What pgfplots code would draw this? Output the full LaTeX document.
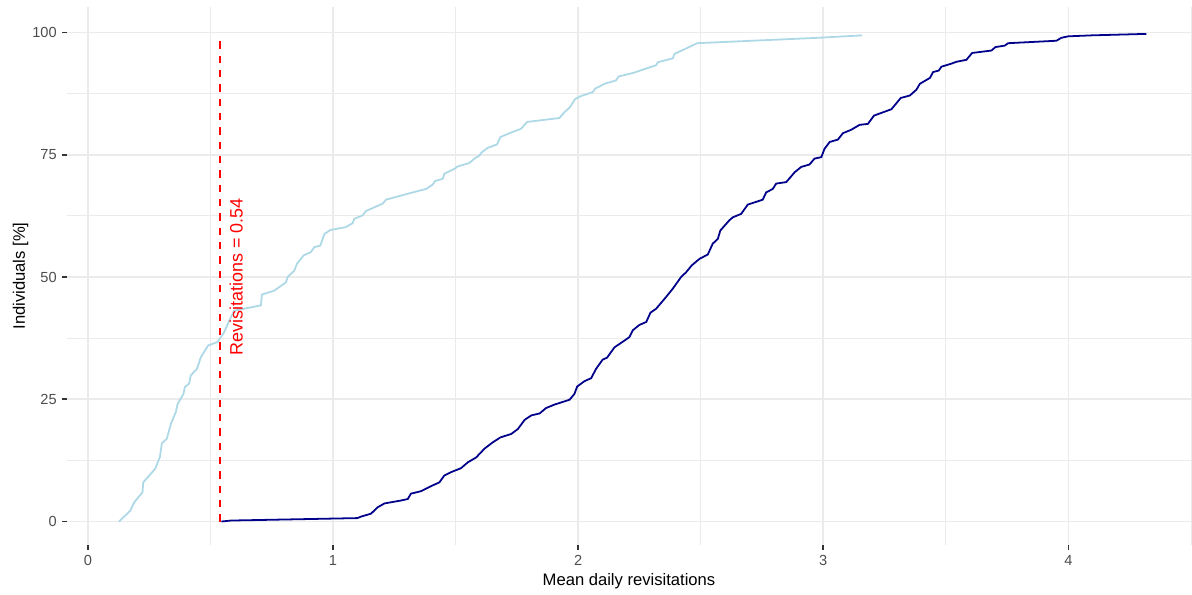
\documentclass[border=0pt]{standalone}
\usepackage{pgfplots}
\pgfplotsset{compat=1.18}
\usepackage{fontspec}
\setmainfont{Liberation Sans}
\definecolor{gridc}{HTML}{EBEBEB}
\definecolor{ticklab}{HTML}{4D4D4D}
\definecolor{tickc}{HTML}{333333}
\definecolor{lightc}{HTML}{ADD8E6}
\definecolor{darkc}{HTML}{00008B}
\begin{document}
\begin{tikzpicture}
\begin{axis}[
  at={(0,0)}, anchor=south west,
  scale only axis,
  width=674.4bp, height=322.8bp,
  xmin=-0.085, xmax=4.5, ymin=-4.8, ymax=105.2,
  axis line style={draw=none},
  axis lines*=left,
  xtick={0,1,2,3,4}, ytick={0,25,50,75,100},
  minor xtick={0.5,1.5,2.5,3.5,4.5},
  minor ytick={12.5,37.5,62.5,87.5},
  grid=both,
  major grid style={gridc, line width=1.07bp},
  minor grid style={gridc, line width=0.53bp},
  tick align=outside,
  major tick length=2.75bp,
  minor tick length=0pt,
  tick style={tickc, line width=1.07bp},
  /pgf/number format/assume math mode=true,
  ticklabel style={font=\fontsize{8.8}{10}\selectfont, text=ticklab},
  xticklabel style={inner sep=0pt, anchor=north, yshift=-3.2bp},
  yticklabel style={inner sep=0pt, anchor=east, xshift=-3.2bp},
  xlabel={Mean daily revisitations},
  ylabel={Individuals [\%]},
  label style={font=\fontsize{11}{13}\selectfont},
  every axis x label/.style={at={(axis description cs:0.5,-0.0762)}, anchor=base},
  every axis y label/.style={at={(axis description cs:-0.0374,0.5)}, rotate=90, anchor=base},
  clip=false,
]
\addplot[lightc, line width=1.07bp] coordinates {
(0.127,0)(0.173,2.2)(0.189,3.9)(0.223,6.0)(0.226,8.0)(0.275,10.8)(0.294,13.2)(0.302,16)(0.322,16.9)(0.339,20)(0.359,22.4)(0.366,24)(0.39,26.1)(0.396,27.5)(0.413,28.2)(0.42,29.9)(0.445,31.2)(0.461,33.6)(0.491,36)(0.529,36.7)(0.556,38.7)(0.577,41.1)(0.597,43.1)(0.706,44.2)(0.71,46.4)(0.76,47.2)(0.808,48.9)(0.815,50)(0.842,51.3)(0.853,52.7)(0.88,54.4)(0.91,55.1)(0.924,56.1)(0.948,56.4)(0.965,58.8)(0.989,59.6)(1.053,60.2)(1.08,61)(1.087,61.9)(1.121,62.6)(1.135,63.5)(1.203,65)(1.216,65.8)(1.311,67.1)(1.38,68)(1.407,68.9)(1.416,69.6)(1.448,70.1)(1.454,71.1)(1.495,72.1)(1.509,72.6)(1.556,73.3)(1.577,74.2)(1.597,74.8)(1.607,75.5)(1.631,76.4)(1.669,77.1)(1.683,78.6)(1.72,79.4)(1.767,80.3)(1.792,81.7)(1.924,82.5)(1.944,83.7)(1.965,84.6)(1.988,86.4)(2.012,87)(2.06,87.8)(2.069,88.5)(2.108,89.5)(2.155,90.2)(2.165,91)(2.223,91.7)(2.318,93.3)(2.325,93.9)(2.386,94.7)(2.393,95.6)(2.486,97.8)(2.978,98.9)(3.158,99.4)
};
\addplot[darkc, line width=1.07bp] coordinates {
(0.545,0)(0.584,0.2)(1.10,0.7)(1.114,1.0)(1.155,1.6)(1.182,2.9)(1.21,3.7)(1.278,4.3)(1.305,4.6)(1.318,5.7)(1.359,6.2)(1.387,6.9)(1.407,7.4)(1.434,8.0)(1.454,9.4)(1.482,10.1)(1.522,10.9)(1.55,12.1)(1.584,13.1)(1.618,14.9)(1.652,16.2)(1.683,17.2)(1.727,17.9)(1.754,18.9)(1.782,20.8)(1.809,21.7)(1.843,22.1)(1.869,23.2)(1.903,23.9)(1.965,24.9)(1.985,26.1)(1.996,27.6)(2.026,28.7)(2.053,29.3)(2.073,31.2)(2.1,33.1)(2.118,33.5)(2.148,35.6)(2.189,37)(2.209,37.7)(2.223,39.1)(2.25,40.2)(2.278,40.8)(2.295,42.7)(2.318,43.5)(2.352,45.5)(2.386,47.6)(2.42,50)(2.441,51)(2.464,52.4)(2.495,53.7)(2.529,54.6)(2.549,56.8)(2.57,57.8)(2.58,59.5)(2.617,61.6)(2.631,62.2)(2.665,62.9)(2.692,64.8)(2.753,65.8)(2.767,67.3)(2.794,68)(2.808,69.1)(2.849,69.4)(2.883,71.4)(2.91,72.5)(2.944,73)(2.964,74.2)(2.992,74.5)(3.005,76.2)(3.026,77.6)(3.06,78.1)(3.08,79.4)(3.114,80.1)(3.148,81.1)(3.182,81.3)(3.207,83)(3.278,84.3)(3.316,86.6)(3.353,87.1)(3.38,88.3)(3.394,89.5)(3.435,90.7)(3.448,91.9)(3.471,92.2)(3.482,93)(3.522,93.6)(3.543,94)(3.584,94.4)(3.607,95.8)(3.686,96.3)(3.702,97)(3.74,97.3)(3.754,97.8)(3.951,98.3)(3.971,98.9)(3.999,99.2)(4.094,99.4)(4.318,99.7)
};
\addplot[red, line width=1.07bp, dash pattern=on 4.3bp off 4.3bp] coordinates {(0.54,0)(0.54,98.6)};
\node[red, rotate=90, font=\fontsize{10.8}{12}\selectfont, inner sep=0pt] at (axis cs:0.605,50) {Revisitations = 0.54};
\end{axis}
\pgfresetboundingbox
\path[use as bounding box] (-40.2bp,-30bp) rectangle (675bp,327bp);
\end{tikzpicture}
\end{document}
